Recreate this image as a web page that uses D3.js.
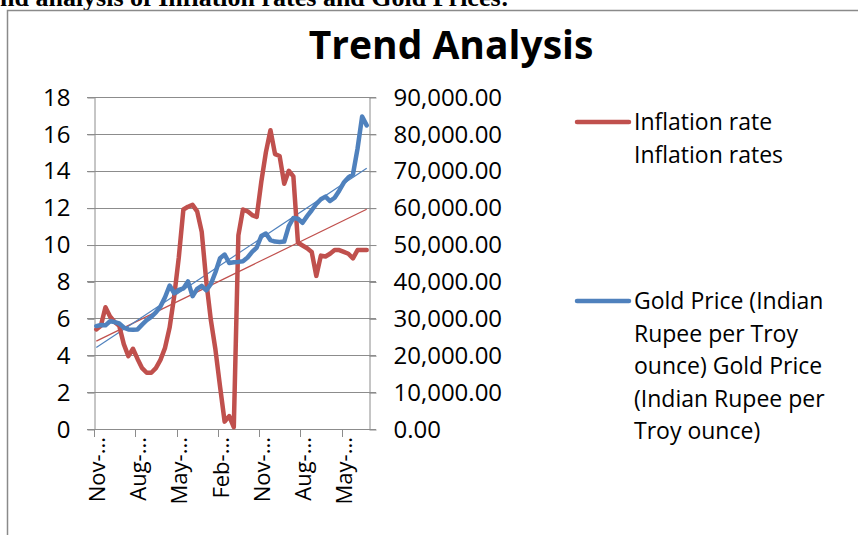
<!DOCTYPE html>
<html>
<head>
<meta charset="utf-8">
<script src="https://cdn.jsdelivr.net/npm/d3@7"></script>
<style>
  html, body { margin: 0; padding: 0; background: #fff; }
  svg { display: block; }
  text { font-family: "Open Sans", "Noto Sans", sans-serif; fill: #000; }
</style>
</head>
<body>
<svg id="chart" width="858" height="535"></svg>
<script>
// monthly categories (only every 9th is labelled, truncated like the original)
const months = [
  'Nov-2006', 'Dec-2006',
  'Jan-2007', 'Feb-2007', 'Mar-2007', 'Apr-2007', 'May-2007', 'Jun-2007',
  'Jul-2007', 'Aug-2007', 'Sep-2007', 'Oct-2007', 'Nov-2007', 'Dec-2007',
  'Jan-2008', 'Feb-2008', 'Mar-2008', 'Apr-2008', 'May-2008', 'Jun-2008',
  'Jul-2008', 'Aug-2008', 'Sep-2008', 'Oct-2008', 'Nov-2008', 'Dec-2008',
  'Jan-2009', 'Feb-2009', 'Mar-2009', 'Apr-2009', 'May-2009', 'Jun-2009',
  'Jul-2009', 'Aug-2009', 'Sep-2009', 'Oct-2009', 'Nov-2009', 'Dec-2009',
  'Jan-2010', 'Feb-2010', 'Mar-2010', 'Apr-2010', 'May-2010', 'Jun-2010',
  'Jul-2010', 'Aug-2010', 'Sep-2010', 'Oct-2010', 'Nov-2010', 'Dec-2010',
  'Jan-2011', 'Feb-2011', 'Mar-2011', 'Apr-2011', 'May-2011', 'Jun-2011',
  'Jul-2011', 'Aug-2011', 'Sep-2011', 'Oct-2011'
]

// inflation rate, %  (left axis)
const inflation = [
  5.4, 5.6, 6.6, 6.1, 5.8, 5.6, 4.6, 3.95, 4.35, 3.8,
  3.3, 3.05, 3.05, 3.3, 3.75, 4.4, 5.5, 7.2, 9.3, 11.9,
  12.05, 12.15, 11.8, 10.7, 8.0, 5.9, 4.3, 2.3, 0.4, 0.7,
  0.1, 10.5, 11.9, 11.8, 11.6, 11.5, 13.4, 15.0, 16.2, 14.9,
  14.8, 13.3, 14.0, 13.7, 10.1, 9.95, 9.8, 9.6, 8.3, 9.4,
  9.35, 9.5, 9.7, 9.7, 9.6, 9.5, 9.25, 9.7, 9.7, 9.7
]

// gold price, INR per troy ounce (right axis)
const goldPrice = [
  27900, 28200, 28100, 29200, 29000, 28600, 27500, 27000, 26900, 27000,
  28300, 29500, 30400, 31600, 33200, 35700, 38900, 36800, 37700, 38100,
  40000, 36000, 38000, 38800, 37600, 39300, 42500, 46300, 47300, 45000,
  45200, 45300, 45500, 46500, 48000, 49200, 52300, 53000, 51200, 50800,
  50700, 50800, 55000, 57200, 57000, 55900, 57700, 59300, 61000, 62300,
  63000, 61800, 62700, 64600, 66800, 68200, 69000, 76000, 84700, 82300
]

const leftTicks = [0, 2, 4, 6, 8, 10, 12, 14, 16, 18]
const rightTicks = [0, 10000, 20000, 30000, 40000, 50000, 60000, 70000, 80000, 90000]
const labelEvery = 9

const pageHeading = 'nd analysis of Inflation rates and Gold Prices:'
const chartTitle = 'Trend Analysis'
const legendInflation = ['Inflation rate', 'Inflation rates']
const legendGold = ['Gold Price (Indian', 'Rupee per Troy', 'ounce) Gold Price', '(Indian Rupee per', 'Troy ounce)']

const red = '#c0504d'
const blue = '#4f81bd'
const grid = '#8c8c8c'

const svg = d3.select('#chart')
const plotL = 94, plotR = 369, plotT = 97, plotB = 429

svg.append('rect').attr('width', 858).attr('height', 535).attr('fill', '#fff')

// heading of the surrounding document, cut at the top
svg.append('text')
  .attr('x', 0).attr('y', 6)
  .style('font-family', '"Liberation Serif", "Times New Roman", serif')
  .style('font-weight', 'bold')
  .style('font-size', '26px')
  .text(pageHeading)

// chart frame
svg.append('rect')
  .attr('x', 7.5).attr('y', 10.5)
  .attr('width', 870).attr('height', 560)
  .attr('fill', 'none')
  .attr('stroke', '#8a8a8a')
  .attr('stroke-width', 1.5)

svg.append('text')
  .attr('x', 451).attr('y', 59)
  .attr('text-anchor', 'middle')
  .style('font-weight', 'bold')
  .style('font-size', '39px')
  .text(chartTitle)

const x = d3.scaleBand()
  .domain(months)
  .range([plotL, plotR])
const cx = d => x(d) + x.bandwidth() / 2

const yL = d3.scaleLinear().domain([0, 18]).range([plotB, plotT])
const yR = d3.scaleLinear().domain([0, 90000]).range([plotB, plotT])

// gridlines (with the tick stubs on both sides)
svg.append('g')
  .selectAll('line')
  .data(leftTicks)
  .join('line')
  .attr('x1', plotL - 7)
  .attr('x2', plotR + 7)
  .attr('y1', d => Math.round(yL(d)) + 0.5)
  .attr('y2', d => Math.round(yL(d)) + 0.5)
  .attr('stroke', grid)

// left axis
const gLeft = svg.append('g')
  .attr('transform', `translate(${plotL + 0.5},0.5)`)
  .call(d3.axisLeft(yL).tickValues(leftTicks).tickSize(7).tickSizeOuter(0).tickPadding(17))
gLeft.selectAll('path, line').attr('stroke', grid)
gLeft.selectAll('text').style('font-size', '24px').attr('fill', '#111')
gLeft.attr('font-family', null).attr('font-size', null)

// right axis
const gRight = svg.append('g')
  .attr('transform', `translate(${plotR + 0.5},0.5)`)
  .call(d3.axisRight(yR).tickValues(rightTicks).tickFormat(d3.format(',.2f'))
    .tickSize(7).tickSizeOuter(0).tickPadding(17))
gRight.selectAll('path, line').attr('stroke', grid)
gRight.selectAll('text').style('font-size', '24px').attr('fill', '#111')
gRight.attr('font-family', null).attr('font-size', null)

// category axis: ticks between categories, labels centred on them
const labelled = months.filter((d, i) => i % labelEvery === 0)
const gBottom = svg.append('g')
gBottom.selectAll('line')
  .data(labelled)
  .join('line')
  .attr('x1', d => Math.round(x(d)) + 0.5)
  .attr('x2', d => Math.round(x(d)) + 0.5)
  .attr('y1', plotB)
  .attr('y2', plotB + 8)
  .attr('stroke', grid)
gBottom.selectAll('text')
  .data(labelled)
  .join('text')
  .attr('transform', d => `translate(${cx(d) + 1},${plotB + 8}) rotate(-90)`)
  .attr('text-anchor', 'end')
  .attr('dy', '0.35em')
  .style('font-size', '22px')
  .attr('fill', '#111')
  .text(d => d.slice(0, 4) + '...')

// least-squares trendlines
function trend (values) {
  const n = values.length
  const mx = d3.mean(values, (d, i) => i)
  const my = d3.mean(values)
  let sxy = 0, sxx = 0
  values.forEach((v, i) => { sxy += (i - mx) * (v - my); sxx += (i - mx) * (i - mx) })
  const b = sxy / sxx
  const a = my - b * mx
  return [0, n - 1].map(i => [months[i], a + b * i])
}

const trendLine = yScale => d3.line()
  .x(d => cx(d[0]))
  .y(d => yScale(d[1]))

svg.append('path')
  .attr('d', trendLine(yL)(trend(inflation)))
  .attr('fill', 'none')
  .attr('stroke', red)
  .attr('stroke-width', 1.2)

svg.append('path')
  .attr('d', trendLine(yR)(trend(goldPrice)))
  .attr('fill', 'none')
  .attr('stroke', blue)
  .attr('stroke-width', 1.2)

// data series
const seriesLine = yScale => d3.line()
  .x((d, i) => cx(months[i]))
  .y(d => yScale(d))

svg.append('path')
  .datum(inflation)
  .attr('d', seriesLine(yL))
  .attr('fill', 'none')
  .attr('stroke', red)
  .attr('stroke-width', 4.5)
  .attr('stroke-linejoin', 'round')
  .attr('stroke-linecap', 'round')

svg.append('path')
  .datum(goldPrice)
  .attr('d', seriesLine(yR))
  .attr('fill', 'none')
  .attr('stroke', blue)
  .attr('stroke-width', 4.5)
  .attr('stroke-linejoin', 'round')
  .attr('stroke-linecap', 'round')

// legend
const legend = [
  { lines: legendInflation, color: red, y: 122 },
  { lines: legendGold, color: blue, y: 301 }
]
const lg = svg.append('g').selectAll('g').data(legend).join('g')
lg.append('line')
  .attr('x1', 577).attr('x2', 629)
  .attr('y1', d => d.y).attr('y2', d => d.y)
  .attr('stroke', d => d.color)
  .attr('stroke-width', 4.5)
  .attr('stroke-linecap', 'round')
lg.each(function (d) {
  d3.select(this).selectAll('text')
    .data(d.lines)
    .join('text')
    .attr('x', 634)
    .attr('y', (t, i) => d.y + i * 32.5)
    .attr('dy', '0.35em')
    .style('font-size', '23px')
    .attr('fill', '#111')
    .text(t => t)
})
</script>
</body>
</html>
